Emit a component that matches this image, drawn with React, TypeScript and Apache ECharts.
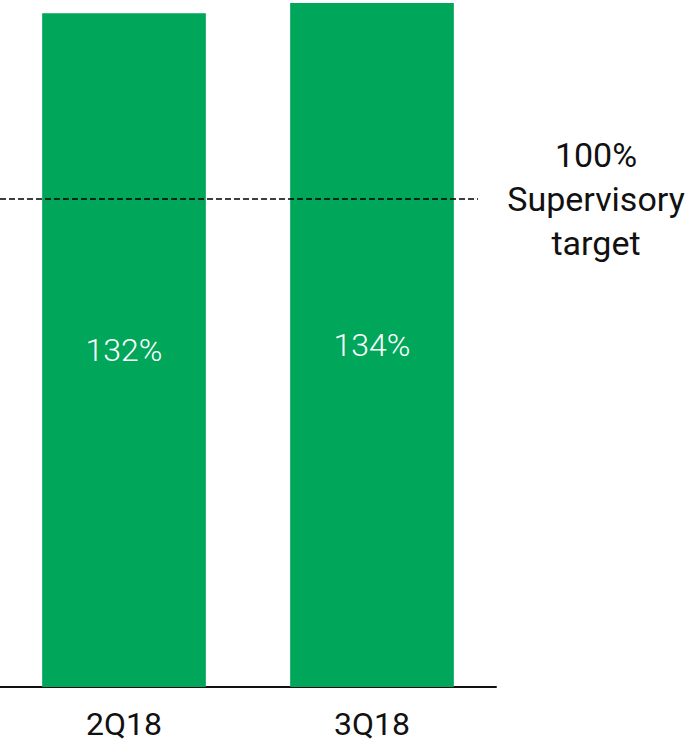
import React, { useEffect, useRef } from "react";
import * as echarts from "echarts";

const categories = ["2Q18", "3Q18"];
const ratioValues = [132, 134];
const valueLabels = ["132%", "134%"];
// dashed supervisory target line, position (value-axis units)
const targetLinePosition = 95.6;
const targetLineSpan = [0, 478];
const targetText = ["100%", "Supervisory", "target"];

export default function App() {
  const ref = useRef<HTMLDivElement>(null);
  useEffect(() => {
    if (!ref.current) return;
    const chart = echarts.init(ref.current, null, { renderer: "svg" });
    chart.setOption({
      animation: false,
      grid: { left: 0, right: 191, top: 0, bottom: 57, containLabel: false },
      xAxis: [
        {
          type: "category",
          data: categories,
          axisLine: { show: true, lineStyle: { color: "#111", width: 2 } },
          axisTick: { show: false },
          axisLabel: { color: "#111", fontSize: 32, margin: 21, fontFamily: "Roboto" },
        },
        { type: "value", min: 0, max: 496, show: false },
      ],
      yAxis: { type: "value", min: 0, max: 134.6, show: false, splitLine: { show: false } },
      series: [
        {
          type: "bar",
          data: ratioValues,
          barWidth: "66%",
          itemStyle: { color: "#00A65A" },
          label: {
            show: true,
            position: "inside",
            color: "#fff",
            fontSize: 32,
            fontWeight: 300,
            fontFamily: "Roboto",
            formatter: (p: any) => valueLabels[p.dataIndex],
          },
        },
        {
          type: "line",
          xAxisIndex: 1,
          data: targetLineSpan.map((x) => [x, targetLinePosition]),
          symbol: "none",
          lineStyle: { color: "#000", width: 1.5, type: [6, 3] },
          z: 5,
        },
      ],
      graphic: [
        {
          type: "text",
          x: 596,
          y: 199,
          style: {
            text: targetText.join("\n"),
            fontSize: 34,
            lineHeight: 44,
            fontFamily: "Roboto",
            fill: "#111",
            align: "center",
            verticalAlign: "middle",
          },
        },
      ],
    });
    return () => chart.dispose();
  }, []);
  return (
    <div
      ref={ref}
      style={{ position: "fixed", left: 0, top: 0, width: 687, height: 744, background: "#fff" }}
    />
  );
}
